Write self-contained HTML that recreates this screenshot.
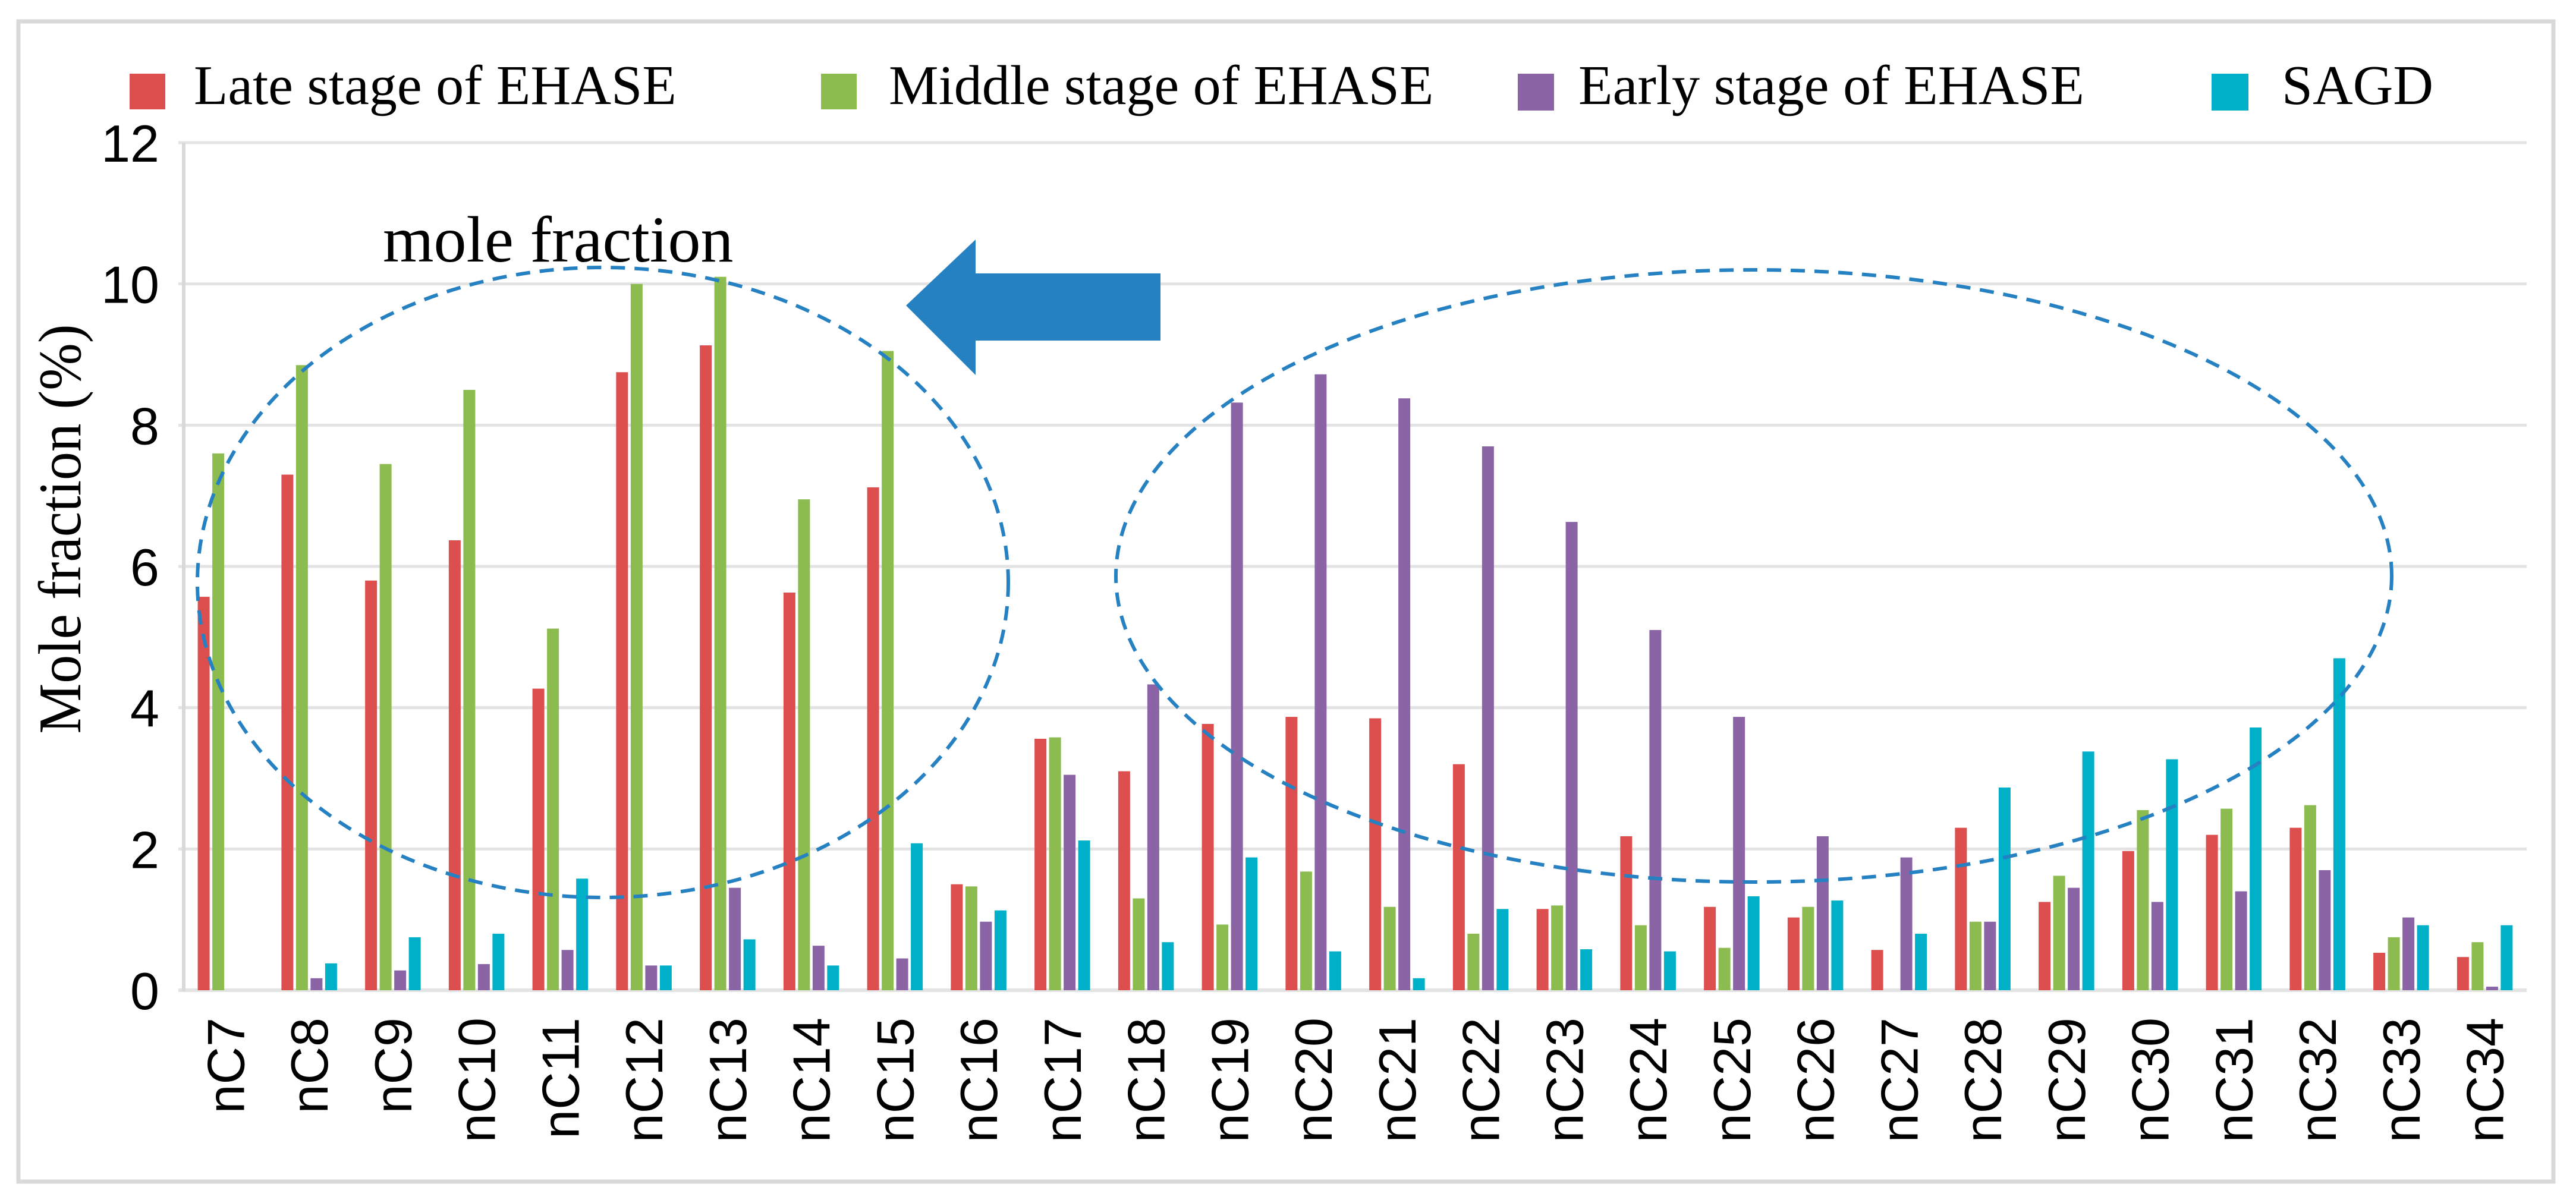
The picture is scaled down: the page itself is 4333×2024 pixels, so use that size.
<!DOCTYPE html>
<html><head><meta charset="utf-8"><style>
html,body{margin:0;padding:0;background:#fff;}
svg{display:block;}
</style></head><body>
<svg id="chart" width="4333" height="2024" viewBox="0 0 4333 2024" xmlns="http://www.w3.org/2000/svg">
<rect x="31" y="36" width="4264" height="1952" fill="#fff" stroke="#d9d9d9" stroke-width="7"/>
<g id="grid"></g>
<g id="bars"></g>
<line x1="309" y1="240" x2="309" y2="1668" stroke="#d9d9d9" stroke-width="6"/>
<g id="yticks"></g>
<g id="xticks"></g>
<text transform="translate(135,890) rotate(-90)" text-anchor="middle" font-family="Liberation Serif, serif" font-size="102" textLength="689" lengthAdjust="spacingAndGlyphs" fill="#000">Mole fraction (%)</text>
<g>
<g><rect x="218" y="124" width="60" height="60" fill="#dd4f4f"/><text x="326" y="175" font-family="Liberation Serif, serif" font-size="94">Late stage of EHASE</text></g>
<g><rect x="1381" y="124" width="60" height="60" fill="#8cbb4f"/><text x="1495" y="175" font-family="Liberation Serif, serif" font-size="94">Middle stage of EHASE</text></g>
<g><rect x="2553" y="124" width="61" height="62" fill="#8b64a6"/><text x="2655" y="175" font-family="Liberation Serif, serif" font-size="94" textLength="851" lengthAdjust="spacingAndGlyphs">Early stage of EHASE</text></g>
<g><rect x="3720" y="124" width="62" height="62" fill="#00afc8"/><text x="3838" y="175" font-family="Liberation Serif, serif" font-size="94" textLength="255" lengthAdjust="spacingAndGlyphs">SAGD</text></g>
</g>
<text x="644" y="440" font-family="Liberation Serif, serif" font-size="110">mole fraction</text>
<polygon points="1524,514 1641,403 1641,460 1952,460 1952,573 1641,573 1641,631" fill="#2581c1"/>
<ellipse cx="1014" cy="980" rx="682" ry="530" fill="none" stroke="#2581c1" stroke-width="6" stroke-dasharray="24,16"/>
<ellipse cx="2950" cy="969" rx="1073" ry="515" fill="none" stroke="#2581c1" stroke-width="6" stroke-dasharray="24,16"/>
</svg>
<script>
const categories = ["nC7","nC8","nC9","nC10","nC11","nC12","nC13","nC14","nC15","nC16","nC17","nC18","nC19","nC20","nC21","nC22","nC23","nC24","nC25","nC26","nC27","nC28","nC29","nC30","nC31","nC32","nC33","nC34"];
const lateStage = [5.57,7.3,5.8,6.37,4.27,8.75,9.13,5.63,7.12,1.5,3.56,3.1,3.77,3.87,3.85,3.2,1.15,2.18,1.18,1.03,0.57,2.3,1.25,1.97,2.2,2.3,0.53,0.47];
const middleStage = [7.6,8.85,7.45,8.5,5.12,10.0,10.1,6.95,9.05,1.47,3.58,1.3,0.93,1.68,1.18,0.8,1.2,0.92,0.6,1.18,0,0.97,1.62,2.55,2.57,2.62,0.75,0.68];
const earlyStage = [0,0.17,0.28,0.37,0.57,0.35,1.45,0.63,0.45,0.97,3.05,4.33,8.32,8.72,8.38,7.7,6.63,5.1,3.87,2.18,1.88,0.97,1.45,1.25,1.4,1.7,1.03,0.05];
const sagd = [0,0.38,0.75,0.8,1.58,0.35,0.72,0.35,2.08,1.13,2.12,0.68,1.88,0.55,0.17,1.15,0.58,0.55,1.33,1.27,0.8,2.87,3.38,3.27,3.72,4.7,0.92,0.92];
const yTicks = [0,2,4,6,8,10,12];

const NS = "http://www.w3.org/2000/svg";
const plotLeft = 309, plotRight = 4250, y0 = 1666, y12 = 240;
const yMax = 12;
function yScale(v){ return y0 - (v / yMax) * (y0 - y12); }
const band = (plotRight - plotLeft) / categories.length;
function xBand(i){ return plotLeft + i * band; }

const grid = document.getElementById('grid');
const yt = document.getElementById('yticks');
yTicks.forEach(t => {
  const l = document.createElementNS(NS,'line');
  l.setAttribute('x1', 300); l.setAttribute('x2', plotRight);
  l.setAttribute('y1', yScale(t)); l.setAttribute('y2', yScale(t));
  l.setAttribute('stroke', '#e3e3e3'); l.setAttribute('stroke-width', t === 0 ? 6 : 5);
  
  
  grid.appendChild(l);
  const tx = document.createElementNS(NS,'text');
  tx.setAttribute('x', 268); tx.setAttribute('y', yScale(t) + 32);
  tx.setAttribute('text-anchor', 'end');
  tx.setAttribute('font-family', 'Liberation Sans, sans-serif');
  tx.setAttribute('font-size', '88');
  tx.textContent = t;
  
  
  yt.appendChild(tx);
});

const series = [lateStage, middleStage, earlyStage, sagd];
const colors = ["#dd4f4f","#8cbb4f","#8b64a6","#00afc8"];
const names = ["bar-late","bar-middle","bar-early","bar-sagd"];
const barW = 20, pitch = 24.5;
const bars = document.getElementById('bars');
const xt = document.getElementById('xticks');
categories.forEach((c, i) => {
  const center = xBand(i) + band / 2;
  const start = center - (pitch * 4 - (pitch - barW)) / 2;
  series.forEach((s, k) => {
    const v = s[i];
    if (v <= 0) return;
    const r = document.createElementNS(NS,'rect');
    r.setAttribute('x', start + k * pitch);
    r.setAttribute('y', yScale(v));
    r.setAttribute('width', barW);
    r.setAttribute('height', y0 - yScale(v));
    r.setAttribute('fill', colors[k]);
    
    
    bars.appendChild(r);
  });
  const tx = document.createElementNS(NS,'text');
  tx.setAttribute('transform', 'translate(' + (center + 31) + ',1712) rotate(-90)');
  tx.setAttribute('text-anchor', 'end');
  tx.setAttribute('font-family', 'Liberation Sans, sans-serif');
  tx.setAttribute('font-size', '88');
  tx.textContent = c;
  
  
  xt.appendChild(tx);
});
</script>
</body></html>
